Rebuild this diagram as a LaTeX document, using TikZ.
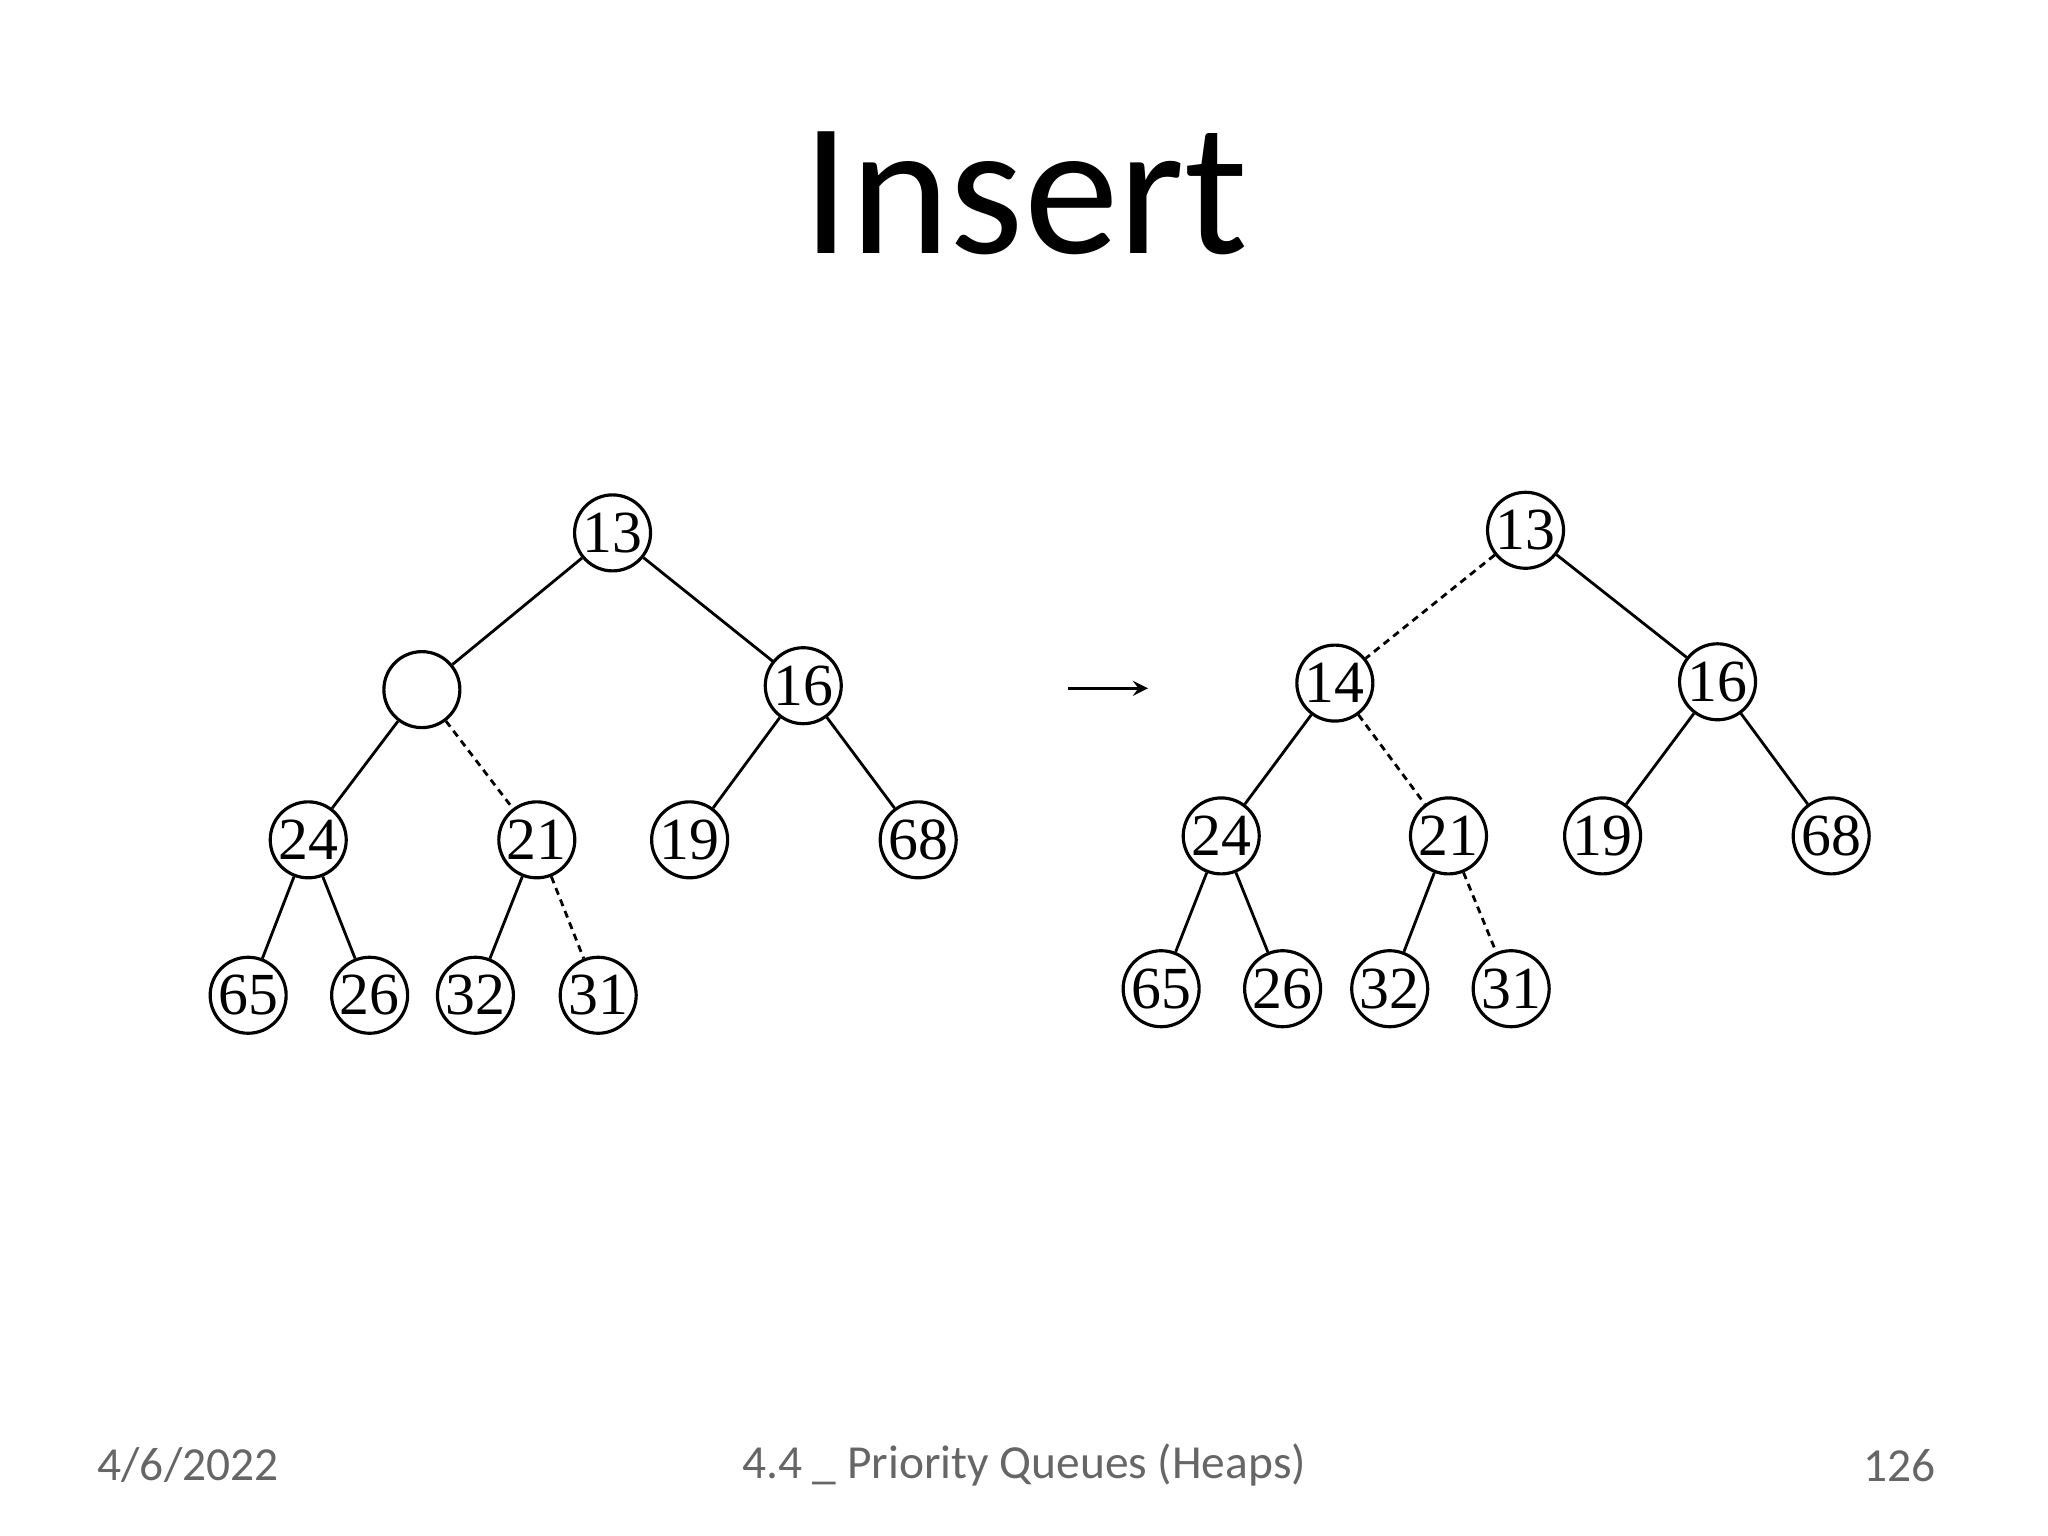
\documentclass[tikz,border=0pt]{standalone}
\usepackage{fontspec}
\setmainfont{Carlito}
\newfontfamily\tnr{Liberation Serif}
\begin{document}
\begin{tikzpicture}[x=0.01306cm,y=-0.01306cm,
  hn/.style={circle,draw,line width=0.9pt,minimum size=0.76cm,inner sep=0pt,font=\tnr\fontsize{17}{17}\selectfont},
  ed/.style={line width=0.8pt},
  de/.style={line width=0.8pt,dash pattern=on 2pt off 1.5pt}]
\useasboundingbox (0,0) rectangle (1568,1176);
\node (title) at (785,148) {\fontsize{54}{54}\selectfont Insert};
\node[text=black!60] (d) at (144,1122) {\fontsize{13.5}{14}\selectfont 4/6/2022};
\node[text=black!60] (f) at (784,1122) {\fontsize{13.5}{14}\selectfont 4.4 \_ Priority Queues (Heaps)};
\node[text=black!60] (p) at (1454,1122) {\fontsize{13.5}{14}\selectfont 126};
% left tree
\node[hn] (a13) at (469,408) {13};
\node[hn] (ae) at (323,528) {};
\node[hn] (a16) at (615,525) {16};
\node[hn] (a24) at (236,643) {24};
\node[hn] (a21) at (411,643) {21};
\node[hn] (a19) at (528,643) {19};
\node[hn] (a68) at (703,643) {68};
\node[hn] (a65) at (190,762) {65};
\node[hn] (a26) at (283,762) {26};
\node[hn] (a32) at (364,762) {32};
\node[hn] (a31) at (458,762) {31};
\draw[ed] (a13)--(ae); \draw[ed] (a13)--(a16);
\draw[ed] (ae)--(a24); \draw[de] (ae)--(a21);
\draw[ed] (a16)--(a19); \draw[ed] (a16)--(a68);
\draw[ed] (a24)--(a65); \draw[ed] (a24)--(a26);
\draw[ed] (a21)--(a32); \draw[de] (a21)--(a31);
% arrow
\coordinate (s) at (818,527); \coordinate (t) at (879,527);
\draw[line width=0.9pt,-stealth] (s)--(t);
% right tree
\node[hn] (b13) at (1168,406) {13};
\node[hn] (b14) at (1022,523) {14};
\node[hn] (b16) at (1315,522) {16};
\node[hn] (b24) at (935,640) {24};
\node[hn] (b21) at (1109,640) {21};
\node[hn] (b19) at (1227,640) {19};
\node[hn] (b68) at (1402,640) {68};
\node[hn] (b65) at (889,757) {65};
\node[hn] (b26) at (982,757) {26};
\node[hn] (b32) at (1064,757) {32};
\node[hn] (b31) at (1157,757) {31};
\draw[de] (b13)--(b14); \draw[ed] (b13)--(b16);
\draw[ed] (b14)--(b24); \draw[de] (b14)--(b21);
\draw[ed] (b16)--(b19); \draw[ed] (b16)--(b68);
\draw[ed] (b24)--(b65); \draw[ed] (b24)--(b26);
\draw[ed] (b21)--(b32); \draw[de] (b21)--(b31);
\end{tikzpicture}
\end{document}
